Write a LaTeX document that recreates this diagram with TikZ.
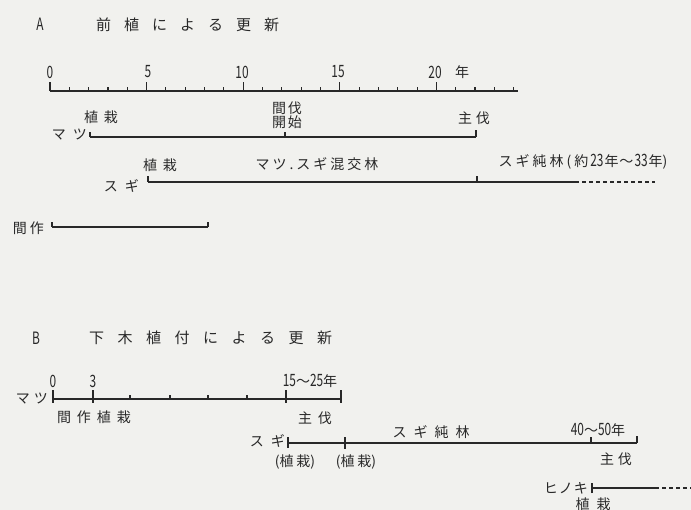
\documentclass[tikz,border=0pt]{standalone}
\usepackage{fontspec}
\setmainfont{Noto Sans CJK JP}
\definecolor{ink}{RGB}{40,40,40}
\definecolor{paper}{RGB}{241,241,238}
\makeatletter
\newcommand\lsp[2]{\def\lsp@gap{#1}\lsp@first#2\@nil}
\def\lsp@first#1{\ifx#1\@nil\else#1\expandafter\lsp@next\fi}
\def\lsp@next#1{\ifx#1\@nil\else\hspace{\lsp@gap}#1\expandafter\lsp@next\fi}
\makeatother
\newcommand\dg[1]{{\fontsize{17}{17}\selectfont\scalebox{0.7}[1]{#1}}}
\begin{document}
\begin{tikzpicture}[x=1pt,y=-1pt,
  ln/.style={line width=1.1pt,draw=ink},
  dashln/.style={line width=1.1pt,draw=ink,dash pattern=on 4pt off 3pt},
  lb/.style={inner sep=0pt,text=ink,font=\fontsize{14}{14}\selectfont},
  ttl/.style={inner sep=0pt,text=ink,font=\fontsize{15}{15}\selectfont},
  nm/.style={inner sep=0pt,text=ink,font=\fontsize{14}{14}\selectfont}]
\fill[paper] (0,0) rectangle (691,510);
\useasboundingbox (0,0) rectangle (691,510);

% ---------------- A ----------------
\node[ttl] (tA) at (40,24) {\dg{A}};
\node[ttl,anchor=west] (tAt) at (96,25) {\lsp{13pt}{前植による更新}};

\coordinate (a0) at (50,91);
\coordinate (aE) at (518,91);
\draw[ln] (a0) -- (aE);
\foreach \i in {0,...,24}{
  \pgfmathsetmacro\h{mod(\i,5)==0 ? 9 : 4}
  \draw[ln] ([xshift={19.32pt*\i}]a0) -- ++(0,-\h);
}
\foreach \v/\x in {0/50,5/148,10/242,15/338,20/435}
  \node[nm] (n\v) at (\x,72) {\dg{\v}};
\node[lb] (yr) at (462,72) {年};

% Matsu A
\coordinate (m1) at (90,137);
\coordinate (m2) at (285,137);
\coordinate (m3) at (476,137);
\draw[ln] (m1) -- (m3);
\draw[ln] (m1) -- ++(0,-5);
\draw[ln] (m2) -- ++(0,-5);
\draw[ln] (m3) -- ++(0,-7);
\node[lb,anchor=east] (mA) at (87,135) {\lsp{7pt}{マツ}};
\node[lb] (pA) at (101,117) {\lsp{6pt}{植栽}};
\node[lb] (kb1) at (287,108) {\lsp{2pt}{間伐}};
\node[lb] (kb2) at (287,122) {\lsp{2pt}{開始}};
\node[lb] (hA) at (474,118) {\lsp{4pt}{主伐}};

% Sugi A
\coordinate (s1) at (148,182);
\coordinate (s2) at (477,182);
\coordinate (s3) at (575,182);
\coordinate (s4) at (655,182);
\draw[ln] (s1) -- (s3);
\draw[dashln] (s3) -- (s4);
\draw[ln] (s1) -- ++(0,-6);
\draw[ln] (s2) -- ++(0,-6);
\node[lb,anchor=east] (sA) at (139,186) {\lsp{7pt}{スギ}};
\node[lb] (pA2) at (160,165) {\lsp{6pt}{植栽}};
\node[lb] (mix) at (317,164) {\lsp{3pt}{マツ.スギ混交林}};
\node[lb] (pure) at (583,162) {\lsp{3pt}{スギ純林(約}\hspace{2pt}\dg{23}\hspace{1pt}年\hspace{1pt}〜\hspace{1pt}\dg{33}\hspace{1pt}年)};

% Intercrop A
\coordinate (k1) at (52,227);
\coordinate (k2) at (208,227);
\draw[ln] (k1) -- (k2);
\draw[ln] (k1) -- ++(0,-5);
\draw[ln] (k2) -- ++(0,-5);
\node[lb,anchor=east] (kA) at (44,228) {\lsp{3pt}{間作}};

% ---------------- B ----------------
\node[ttl] (tB) at (36,338) {\dg{B}};
\node[ttl,anchor=west] (tBt) at (89,338) {\lsp{13.5pt}{下木植付による更新}};

% Matsu B
\coordinate (bm0) at (53,399);
\coordinate (bm3) at (93,399);
\coordinate (bm15) at (286,399);
\coordinate (bmE) at (341,399);
\draw[ln] (bm0) -- (bmE);
\foreach \c in {bm0,bm3,bm15,bmE}
  \draw[ln] ([yshift=-4pt]\c) -- ++(0,-13);
\foreach \x in {130,170,208,247}
  \draw[ln] (\x,399) -- ++(0,-4);
\node[nm] (b0) at (53,381) {\dg{0}};
\node[nm] (b3) at (93,381) {\dg{3}};
\node[nm] (b15) at (310,381) {\dg{15}〜\dg{25}年};
\node[lb,anchor=east] (mB) at (48,399) {\lsp{4pt}{マツ}};
\node[lb] (pB) at (94,417) {\lsp{6pt}{間作植栽}};
\node[lb] (hB) at (315,418) {\lsp{6pt}{主伐}};

% Sugi B
\coordinate (bs1) at (288,443);
\coordinate (bs2) at (345,443);
\coordinate (bs3) at (591,443);
\coordinate (bs4) at (637,443);
\draw[ln] (bs1) -- (bs4);
\draw[ln] ([yshift=-5pt]bs1) -- ++(0,-11);
\draw[ln] ([yshift=-6pt]bs2) -- ++(0,-12);
\draw[ln] (bs3) -- ++(0,-6);
\draw[ln] (bs4) -- ++(0,-7);
\node[lb,anchor=east] (sB) at (285,441) {\lsp{7pt}{スギ}};
\node[lb] (pB1) at (295,462) {(\lsp{3pt}{植栽})};
\node[lb] (pB2) at (356,462) {(\lsp{3pt}{植栽})};
\node[lb] (pureB) at (431,432) {\lsp{7pt}{スギ純林}};
\node[nm] (b40) at (598,430) {\dg{40}〜\dg{50}年};
\node[lb] (hB2) at (616,459) {\lsp{4pt}{主伐}};

% Hinoki B
\coordinate (h1) at (592,488);
\coordinate (h2) at (655,488);
\coordinate (h3) at (691,488);
\draw[ln] (h1) -- (h2);
\draw[dashln] (h2) -- (h3);
\draw[ln] ([yshift=-5pt]h1) -- ++(0,-10);
\node[lb,anchor=east] (hk) at (588,488) {\lsp{1pt}{ヒノキ}};
\node[lb] (pH) at (593,504) {\lsp{7pt}{植栽}};
\end{tikzpicture}
\end{document}
